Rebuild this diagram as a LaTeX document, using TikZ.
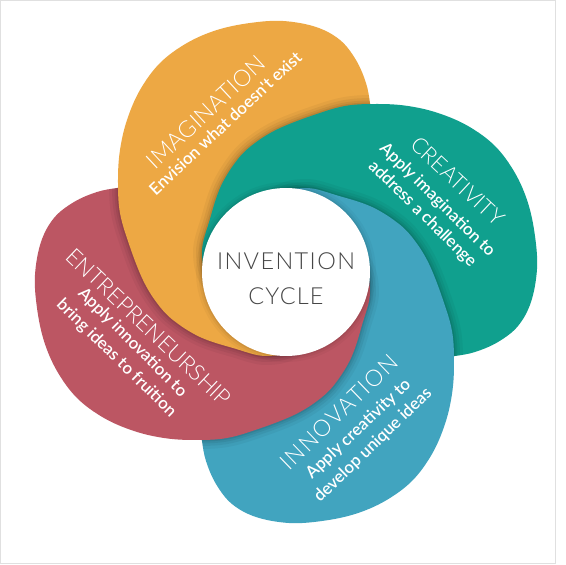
\documentclass[tikz,border=0pt]{standalone}
\usepackage{fontspec}
\setmainfont{Lato}
\newfontfamily\lightfont{Lato Light}
\newfontfamily\semifont{Lato Semibold}
\definecolor{yel}{RGB}{237,168,68}
\definecolor{tea}{RGB}{16,160,142}
\definecolor{blu}{RGB}{65,164,191}
\definecolor{rose}{RGB}{188,86,99}
\definecolor{hubgray}{RGB}{70,70,70}
\def\blobpath{plot[smooth cycle,tension=0.6] coordinates {(84,169) (80,189) (70,212) (54,232) (30,245) (-3,251) (-36,249) (-69,242) (-99,229) (-126,209) (-146,182) (-159,152) (-166,122) (-168,92) (-166,59) (-156,25) (-143,-8) (-129,-31) (-113,-48) (-86,-65) (-53,-76) (-19,-84) (12,-74) (32,-35) (28,15) (5,50) (-20,72) (-24,92) (5,104) (45,112) (75,128) (86,150)}}
\newcommand\petalshadow[1]{%
  \foreach \w/\o in {18/0.04,12/0.05,7/0.06,3/0.08}{%
    \draw[line width=\w pt, draw=black, draw opacity=\o, rotate=#1] \blobpath;}}
\begin{document}
\begin{tikzpicture}[x=1pt,y=1pt,
  ttl/.style={text=white, font=\lightfont\fontsize{23}{23}\selectfont, inner sep=0pt, text height=16.5pt, text depth=0pt},
  sub/.style={text=white, font=\semifont\fontsize{16.8}{16.8}\selectfont, inner sep=0pt, text height=10pt, text depth=0pt},
  hubtext/.style={text=hubgray, font=\lightfont\fontsize{23.5}{23.5}\selectfont, inner sep=0pt, text height=17pt, text depth=0pt},
  hub/.style={circle, fill=white, minimum size=168pt, inner sep=0pt}]
\useasboundingbox (-286,-293) rectangle (280,272);
\fill[white] (-286,-293) rectangle (280,272);
\draw[black!12, line width=1pt] (-285.5,-291) rectangle (270,271);
% teal (bottom)
\fill[tea,rotate=-90] \blobpath;
% blue over teal
\begin{scope}\clip[rotate=-90] \blobpath; \petalshadow{180}\end{scope}
\fill[blu,rotate=180] \blobpath;
% red over blue
\begin{scope}\clip[rotate=180] \blobpath; \petalshadow{90}\end{scope}
\fill[rose,rotate=90] \blobpath;
% yellow over red
\begin{scope}\clip[rotate=90] \blobpath; \petalshadow{0}\end{scope}
\fill[yel] \blobpath;
% teal over yellow
\begin{scope}\clip \blobpath; \petalshadow{-90}\fill[tea,rotate=-90] \blobpath;\end{scope}
\begin{scope}\clip[rotate=-90] \blobpath; \draw[tea, line width=3pt] \blobpath;\end{scope}
% hub
\foreach \w/\o in {12/0.03,7/0.045,3/0.06}{\draw[line width=\w pt, draw=black, draw opacity=\o] (0,0) circle (84);}
\node[hub] (hubc) at (0,0) {};
\node[hubtext] (inv) at (0,10.5) {\addfontfeature{LetterSpace=6}INVENTION};
\node[hubtext] (cyc) at (0,-24) {\addfontfeature{LetterSpace=5}CYCLE};
% texts
\node[ttl, rotate=43] (imag) at (-80,160) {\addfontfeature{LetterSpace=1}IMAGINATION};
\node[sub, rotate=43] (imagd) at (-60,148) {Envision what doesn't exist};
\node[ttl, rotate=-43, font=\lightfont\fontsize{22}{22}\selectfont] (crea) at (172,91) {CREATIVITY};
\node[sub, rotate=-44.5] (crea1) at (151.5,72) {Apply imagination to};
\node[sub, rotate=-44.5] (crea2) at (136.5,58) {address a challenge};
\node[ttl, rotate=-43.5, font=\lightfont\fontsize{22.5}{22.5}\selectfont] (entr) at (-137,-55) {ENTREPRENEURSHIP};
\node[sub, rotate=-45] (entr1) at (-153.5,-70.5) {Apply innovation to};
\node[sub, rotate=-44.5] (entr2) at (-169.5,-86) {bring ideas to fruition};
\node[ttl, rotate=44] (inno) at (53,-140) {\addfontfeature{LetterSpace=6}INNOVATION};
\node[sub, rotate=43.5] (inno1) at (72.5,-157) {Apply creativity to};
\node[sub, rotate=44] (inno2) at (87,-173) {develop unique ideas};
\end{tikzpicture}
\end{document}
